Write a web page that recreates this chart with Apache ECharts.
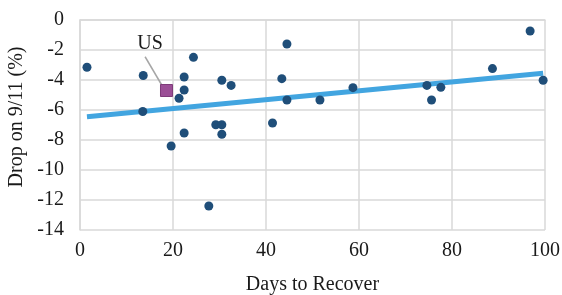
<!DOCTYPE html>
<html>
<head>
<meta charset="utf-8">
<script src="https://cdn.jsdelivr.net/npm/echarts@6/dist/echarts.min.js"></script>
<style>
  html, body { margin: 0; padding: 0; background: #fff; }
  #main { width: 562px; height: 295px; }
</style>
</head>
<body>
<div id="main"></div>
<script>
// days to recover vs drop on 9/11 (%)
const days = [1.5, 13.6, 13.5, 19.6, 21.3, 22.4, 22.4, 22.4, 24.4, 27.7, 29.2, 30.5, 30.5, 30.5, 32.5,
  41.4, 43.4, 44.5, 44.5, 51.6, 58.7, 74.6, 75.6, 77.6, 88.7, 96.8, 99.6]
const drop = [-3.15, -3.7, -6.1, -8.4, -5.22, -3.8, -4.67, -7.53, -2.49, -12.4, -6.98, -6.98, -7.62, -4.02, -4.36,
  -6.87, -3.91, -1.6, -5.33, -5.33, -4.51, -4.36, -5.33, -4.49, -3.24, -0.73, -4.02]
const usPoint = [18.6, -4.7]
const usLabelAt = [15.05, -1.55]
const trendX = [1.5, 99.6]
const trendY = [-6.45, -3.55]

const font = "'Liberation Serif', serif"
const chart = echarts.init(document.getElementById('main'))

chart.setOption({
  animation: false,
  grid: { left: 80, right: 17, top: 20, bottom: 65, outerBoundsMode: 'none' },
  xAxis: {
    type: 'value', min: 0, max: 100, interval: 20,
    name: 'Days to Recover', nameLocation: 'middle', nameGap: 45,
    nameTextStyle: { fontFamily: font, fontSize: 20, color: '#1a1a1a' },
    axisLine: { show: true, lineStyle: { color: '#d9d9d9', width: 1.5 } },
    axisTick: { show: false },
    axisLabel: { fontFamily: font, fontSize: 20, color: '#1a1a1a', margin: 11 },
    splitLine: { lineStyle: { color: '#d9d9d9', width: 1.5 } }
  },
  yAxis: {
    type: 'value', min: -14, max: 0, interval: 2,
    name: 'Drop on 9/11 (%)', nameLocation: 'middle', nameGap: 53,
    nameTextStyle: { fontFamily: font, fontSize: 20, color: '#1a1a1a', padding: [0, 0, 0, 16] },
    axisLine: { show: true, lineStyle: { color: '#d9d9d9', width: 1.5 } },
    axisTick: { show: false },
    axisLabel: { fontFamily: font, fontSize: 20, color: '#1a1a1a', margin: 16 },
    splitLine: { lineStyle: { color: '#d9d9d9', width: 1.5 } }
  },
  series: [
    {
      type: 'line',
      data: trendX.map((x, i) => [x, trendY[i]]),
      symbol: 'none',
      lineStyle: { color: '#42a5e0', width: 5 },
      z: 3
    },
    {
      type: 'scatter',
      data: days.map((d, i) => [d, drop[i]]),
      symbolSize: 9,
      itemStyle: { color: '#1f4e79', opacity: 1 },
      z: 4
    },
    {
      type: 'scatter',
      data: [usPoint],
      symbol: 'rect',
      symbolSize: 12,
      itemStyle: { color: '#9b4f96', borderColor: '#7e3c7a', borderWidth: 1, opacity: 1 },
      z: 5,
      markLine: {
        symbol: 'none', silent: true,
        lineStyle: { color: '#a6a6a6', width: 1.5, type: 'solid' },
        label: { show: false },
        data: [[{ coord: [14.0, -2.45] }, { coord: [17.8, -4.45] }]]
      }
    },
    {
      type: 'scatter',
      data: [usLabelAt],
      symbolSize: 0,
      itemStyle: { color: '#fff', opacity: 1 },
      label: {
        show: true, position: 'inside', formatter: 'US', fontFamily: font, fontSize: 20,
        color: '#1a1a1a', textBorderWidth: 0
      },
      z: 6
    }
  ]
})
</script>
</body>
</html>
